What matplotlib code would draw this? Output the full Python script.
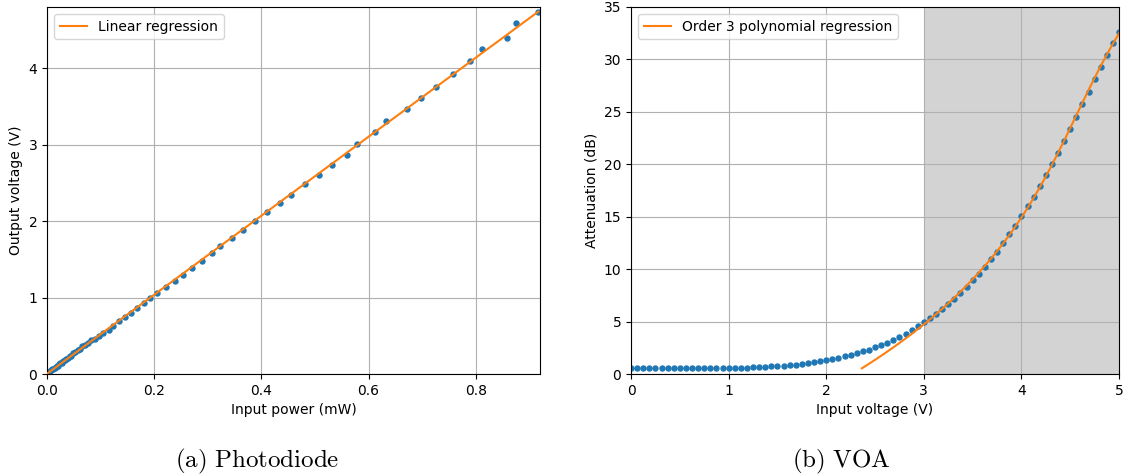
import numpy as np
import matplotlib
matplotlib.use("Agg")
import matplotlib.pyplot as plt

plt.rcParams['mathtext.fontset'] = 'cm'
plt.rcParams['font.size'] = 10

# --- (a) Photodiode data ---
power_mw = [0.002, 0.004, 0.006, 0.008, 0.010, 0.012, 0.014, 0.016, 0.018, 0.020,
            0.023, 0.025, 0.028, 0.030, 0.033, 0.036, 0.039, 0.042, 0.045, 0.049,
            0.053, 0.057, 0.061, 0.066, 0.071, 0.076, 0.082,
            0.089, 0.097, 0.105, 0.115, 0.124, 0.134, 0.146, 0.156, 0.168, 0.181,
            0.193, 0.206, 0.222, 0.239, 0.254, 0.271, 0.290, 0.307, 0.322, 0.346,
            0.365, 0.389, 0.411, 0.435, 0.455, 0.482, 0.507, 0.532, 0.559, 0.579,
            0.612, 0.633, 0.671, 0.698, 0.725, 0.758, 0.789, 0.812, 0.858, 0.876,
            0.917]
out_voltage = [0.02, 0.03, 0.04, 0.05, 0.06, 0.07, 0.08, 0.09, 0.10, 0.11,
               0.13, 0.14, 0.15, 0.17, 0.18, 0.20, 0.21, 0.23, 0.24, 0.27,
               0.29, 0.31, 0.33, 0.36, 0.38, 0.41, 0.44,
               0.46, 0.50, 0.54, 0.58, 0.63, 0.69, 0.74, 0.80, 0.86, 0.93,
               0.99, 1.06, 1.14, 1.22, 1.30, 1.39, 1.48, 1.58, 1.67, 1.78,
               1.88, 2.00, 2.12, 2.24, 2.34, 2.48, 2.60, 2.74, 2.86, 3.01,
               3.16, 3.31, 3.46, 3.61, 3.75, 3.93, 4.09, 4.25, 4.39, 4.59,
               4.74]

# --- (b) VOA data ---
in_voltage = [0.0, 0.0625, 0.125, 0.1875, 0.25, 0.3125, 0.375, 0.4375, 0.5, 0.5625,
              0.625, 0.6875, 0.75, 0.8125, 0.875, 0.9375, 1.0, 1.0625, 1.125, 1.1875,
              1.25, 1.3125, 1.375, 1.4375, 1.5, 1.5625, 1.625, 1.6875, 1.75, 1.8125,
              1.875, 1.9375, 2.0, 2.0625, 2.125, 2.1875, 2.25, 2.3125, 2.375, 2.4375,
              2.5, 2.5625, 2.625, 2.6875, 2.75, 2.8125, 2.875, 2.9375, 3.0, 3.0625,
              3.125, 3.1875, 3.25, 3.3125, 3.375, 3.4375, 3.5, 3.5625, 3.625, 3.6875,
              3.75, 3.8125, 3.875, 3.9375, 4.0, 4.0625, 4.125, 4.1875, 4.25, 4.3125,
              4.375, 4.4375, 4.5, 4.5625, 4.625, 4.6875, 4.75, 4.8125, 4.875, 4.9375,
              5.0]
attenuation_db = [0.54, 0.54, 0.54, 0.54, 0.54, 0.54, 0.54, 0.54, 0.54, 0.54,
                  0.54, 0.54, 0.54, 0.54, 0.54, 0.54, 0.57, 0.57, 0.60, 0.60,
                  0.64, 0.67, 0.70, 0.73, 0.76, 0.79, 0.83, 0.89, 0.95, 1.02,
                  1.11, 1.21, 1.30, 1.40, 1.53, 1.68, 1.81, 2.00, 2.16, 2.32,
                  2.54, 2.77, 2.99, 3.24, 3.50, 3.85, 4.16, 4.55, 4.93, 5.31,
                  5.72, 6.17, 6.68, 7.18, 7.72, 8.33, 8.93, 9.54, 10.24, 10.93,
                  11.67, 12.46, 13.32, 14.14, 15.07, 15.99, 16.91, 17.93, 18.98, 19.99,
                  21.07, 22.25, 23.39, 24.51, 25.72, 26.92, 28.10, 29.28, 30.42, 31.60,
                  32.64]

fit_region = (3.0, 5.0)

W, H = 1123, 475
fig = plt.figure(figsize=(W / 100, H / 100), dpi=100)

def px_axes(x0, y0, x1, y1):
    return fig.add_axes([x0 / W, 1 - y1 / H, (x1 - x0) / W, (y1 - y0) / H])

blue = '#1f77b4'
orange = '#ff7f0e'

# Left panel
ax1 = px_axes(47, 7, 540, 374)
px = np.array(power_mw)
py = np.array(out_voltage)
coef1 = np.polyfit(px, py, 1)
ax1.plot(px, py, 'o', color=blue, ms=3.6, zorder=2)
xl = np.array([0.0, px.max()])
ax1.plot(xl, np.polyval(coef1, xl), color=orange, lw=1.5, label='Linear regression', zorder=3)
ax1.set_xlim(0, 0.92)
ax1.set_ylim(0, 4.8)
ax1.set_xticks([0.0, 0.2, 0.4, 0.6, 0.8])
ax1.set_yticks([0, 1, 2, 3, 4])
ax1.grid(True)
ax1.set_xlabel('Input power (mW)')
ax1.set_ylabel('Output voltage (V)')
ax1.legend(loc='upper left')

# Right panel: voltage fitted as a cubic function of attenuation (inverse model)
ax2 = px_axes(631, 7, 1119, 374)
vx = np.array(in_voltage)
vy = np.array(attenuation_db)
ax2.axvspan(fit_region[0], fit_region[1], color='lightgray', zorder=0, lw=0)
mask = (vx >= fit_region[0]) & (vx <= fit_region[1])
coef2 = np.polyfit(vy[mask], vx[mask], 3)
ax2.plot(vx, vy, 'o', color=blue, ms=3.6, zorder=2)
att_fine = np.linspace(vy.min(), vy.max(), 300)
ax2.plot(np.polyval(coef2, att_fine), att_fine, color=orange, lw=1.5,
         label='Order 3 polynomial regression', zorder=3)
ax2.set_xlim(0, 5)
ax2.set_ylim(0, 35)
ax2.set_xticks([0, 1, 2, 3, 4, 5])
ax2.set_yticks([0, 5, 10, 15, 20, 25, 30, 35])
ax2.grid(True)
ax2.set_xlabel('Input voltage (V)')
ax2.set_ylabel('Attenuation (dB)')
ax2.legend(loc='upper left')

# Captions
fig.text(257.5 / W, 1 - 461 / H, r'$\mathrm{(a)\ Photodiode}$', ha='center', va='center', fontsize=18)
fig.text(841.5 / W, 1 - 461 / H, r'$\mathrm{(b)\ VOA}$', ha='center', va='center', fontsize=18)

fig.savefig('out.png', dpi=100)
